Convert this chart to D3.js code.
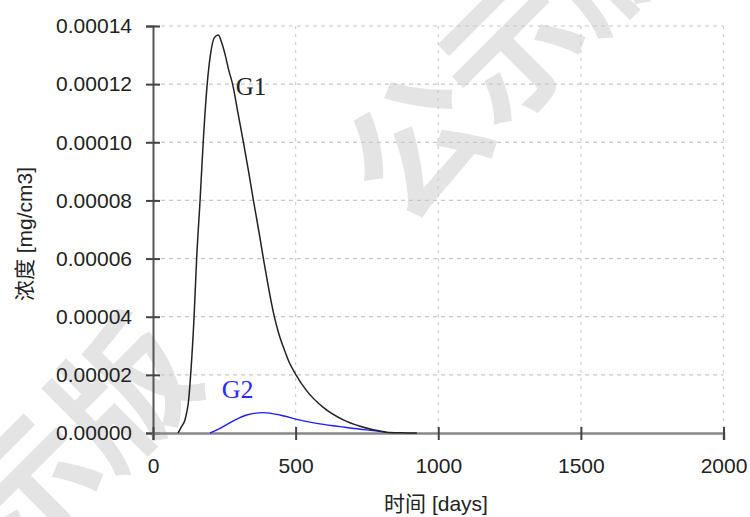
<!doctype html>
<html lang='zh'>
<head>
    <meta charset='UTF-8'>
    <title>浓度曲线</title>
    <style>
        body { margin: 0; background: #fff; }
        svg { display: block; }
        .tick text {
            font-family: 'Liberation Sans', Arial, 'Noto Sans CJK SC', sans-serif;
            font-size: 21px;
            fill: #222;
        }
    </style>
</head>
<body>

<script src='https://d3js.org/d3.v7.min.js'></script>
<script>
  // tick labels
  const xTicks = [0, 500, 1000, 1500, 2000]
  const yTicks = [0, 0.00002, 0.00004, 0.00006, 0.00008, 0.00010, 0.00012, 0.00014]

  // G1
  const g1Days = [88, 100, 112, 118, 124, 132, 144, 153, 165, 176, 190, 202, 215, 229, 240, 252, 265, 279,
    298, 317, 335, 352, 370, 387, 404, 422, 440, 461, 480, 500, 539, 597, 667, 726, 772, 820, 870, 925]
  const g1Conc = [0, 0.0000022, 0.0000045, 0.000007, 0.0000105, 0.00002, 0.00004, 0.00006, 0.00008, 0.0001,
    0.00012, 0.0001305, 0.000136, 0.0001369, 0.0001345, 0.0001305, 0.000125, 0.00012,
    0.00011, 0.0001, 0.00009, 0.00008, 0.00007, 0.00006, 0.0000505, 0.0000415, 0.0000345, 0.0000285,
    0.0000238, 0.0000202, 0.0000145, 0.0000088, 0.0000045, 0.0000023, 0.0000011, 0.0000003, 0.0000001, 0]

  // G2
  const g2Days = [200, 235, 282, 328, 387, 445, 504, 574, 656, 726, 772, 819]
  const g2Conc = [0, 0.0000016, 0.0000042, 0.0000062, 0.000007, 0.0000062, 0.0000047, 0.0000033,
    0.0000022, 0.0000013, 0.0000008, 0.0000002]

  const w = 750
  const h = 517
  const plotLeft = 153, plotRight = 723.5, plotTop = 26, plotBottom = 433

  const xScale = d3.scaleLinear().domain([0, 2000]).range([plotLeft, plotRight])
  const yScale = d3.scaleLinear().domain([0, 0.00014]).range([plotBottom, plotTop])

  const svg = d3.select('body')
    .append('svg')
    .attr('width', w)
    .attr('height', h)

  /******************** watermark ******************/

  const markChars = ['公', '示', '版']
  const step = 134
  const ux = Math.SQRT1_2, uy = -Math.SQRT1_2
  const groupStarts = [
    [418, 146],
    [418 - 4.85 * step * ux - 32 * Math.SQRT1_2, 146 - 4.85 * step * uy - 32 * Math.SQRT1_2]
  ]
  const wm = svg.append('g')
  groupStarts.forEach(s => {
    markChars.forEach((c, i) => {
      wm.append('text')
        .attr('transform', `translate(${s[0] + i * step * ux},${s[1] + i * step * uy}) rotate(-45)`)
        .attr('text-anchor', 'middle')
        .attr('dy', '0.36em')
        .attr('font-family', "'Noto Sans CJK SC', sans-serif")
        .attr('font-size', 136)
        .attr('font-weight', 'bold')
        .attr('fill', '#e4e4e4')
        .text(c)
    })
  })

  /******************** grid ******************/

  svg.append('g')
    .selectAll('line')
    .data(yTicks.slice(1))
    .enter()
    .append('line')
    .attr('x1', plotLeft)
    .attr('x2', plotRight)
    .attr('y1', d => yScale(d))
    .attr('y2', d => yScale(d))
    .attr('stroke', '#c8c8c8')
    .attr('stroke-width', 1.2)
    .attr('stroke-dasharray', '4,4')

  svg.append('g')
    .selectAll('line')
    .data(xTicks.slice(1))
    .enter()
    .append('line')
    .attr('x1', d => xScale(d))
    .attr('x2', d => xScale(d))
    .attr('y1', plotTop)
    .attr('y2', plotBottom)
    .attr('stroke', '#cfcfcf')
    .attr('stroke-width', 1.2)
    .attr('stroke-dasharray', '3,5')

  /******************** axes ******************/

  const yAxis = svg.append('g')
    .attr('transform', `translate(${plotLeft},0)`)
    .call(d3.axisLeft(yScale).tickValues(yTicks).tickFormat(d3.format('.5f')).tickSize(7).tickPadding(14))
  yAxis.select('.domain').attr('stroke', '#555').attr('stroke-width', 2)
  yAxis.selectAll('.tick line').attr('x2', 7).attr('x1', -7).attr('stroke', '#444').attr('stroke-width', 2)

  const xAxis = svg.append('g')
    .attr('transform', `translate(0,${plotBottom})`)
    .call(d3.axisBottom(xScale).tickValues(xTicks).tickFormat(d3.format('d')).tickSize(7).tickPadding(18))
  xAxis.select('.domain').attr('stroke', '#888').attr('stroke-width', 2.6)
  xAxis.selectAll('.tick line').attr('y1', -6).attr('y2', 7).attr('stroke', '#444').attr('stroke-width', 2)

  /******************** curves ******************/

  const line = (days, conc) => d3.line()
    .x(i => xScale(days[i]))
    .y(i => yScale(conc[i]))
    .curve(d3.curveMonotoneX)(d3.range(days.length))

  svg.append('path')
    .attr('d', line(g2Days, g2Conc))
    .attr('fill', 'none')
    .attr('stroke', '#1c1cff')
    .attr('stroke-width', 1.4)

  svg.append('path')
    .attr('d', line(g1Days, g1Conc))
    .attr('fill', 'none')
    .attr('stroke', '#222')
    .attr('stroke-width', 1.5)

  /******************** labels ******************/

  svg.append('text')
    .attr('x', xScale(290))
    .attr('y', 95)
    .attr('font-family', "'Liberation Serif', 'Times New Roman', serif")
    .attr('font-size', 25)
    .attr('fill', '#222')
    .text('G1')

  svg.append('text')
    .attr('x', xScale(241))
    .attr('y', 398)
    .attr('font-family', "'Liberation Serif', 'Times New Roman', serif")
    .attr('font-size', 26)
    .attr('fill', '#2a2aff')
    .text('G2')

  svg.append('text')
    .attr('x', 436)
    .attr('y', 511)
    .attr('text-anchor', 'middle')
    .attr('font-family', "'Liberation Sans', Arial, 'Noto Sans CJK SC', sans-serif")
    .attr('font-size', 21)
    .attr('fill', '#222')
    .text('时间 [days]')

  svg.append('text')
    .attr('transform', 'translate(32,234) rotate(-90)')
    .attr('text-anchor', 'middle')
    .attr('font-family', "'Liberation Sans', Arial, 'Noto Sans CJK SC', sans-serif")
    .attr('font-size', 21)
    .attr('fill', '#222')
    .text('浓度 [mg/cm3]')
</script>
</body>
</html>
